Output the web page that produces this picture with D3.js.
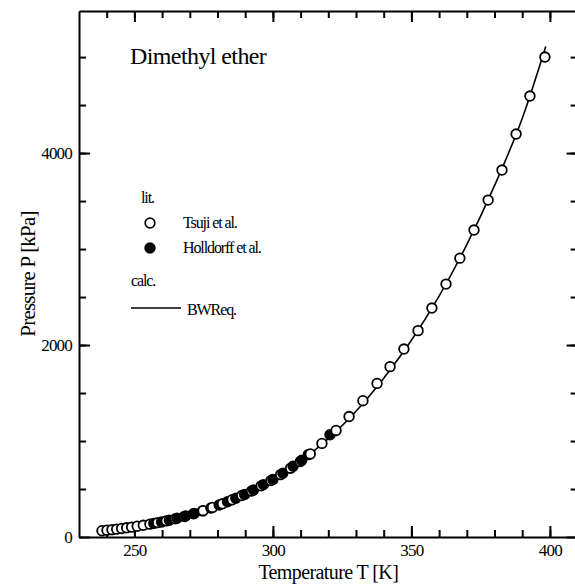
<!DOCTYPE html>
<html>
<head>
<meta charset="utf-8">
<script src="https://cdn.jsdelivr.net/npm/d3@7"></script>
<style>
  body { margin: 0; background: #fff; }
</style>
</head>
<body>
<svg id="chart" width="575" height="585" font-family="'Liberation Serif', 'Times New Roman', serif"></svg>
<script>
// Tsuji et al. (open circles)
const tsujiT = [238.3, 240.1, 241.9, 243.6, 245.4, 247.2, 249.0, 251.0, 253.2, 255.6, 258.4, 261.5,
  264.8, 268.0, 271.3, 274.8, 278.2, 281.8, 285.3, 288.8, 292.3, 295.8, 299.3, 302.8, 306.4, 309.9,
  313.5, 317.7, 322.8, 327.5, 332.5, 337.6, 342.3, 347.3, 352.4, 357.4, 362.5, 367.5, 372.6, 377.7,
  382.7, 387.8, 392.8, 398.2]
const tsujiP = [65, 71, 76, 82, 89, 96, 103, 112, 122, 134, 150, 168,
  190, 214, 242, 274, 308, 346, 388, 432, 480, 533, 588, 650, 717, 787,
  866, 975, 1110, 1255, 1420, 1600, 1775, 1958, 2150, 2385, 2635, 2905, 3198, 3510,
  3823, 4198, 4594, 5000]

// Holldorff et al. (filled circles)
const holldorffT = [257.0, 259.8, 262.6, 265.4, 268.5, 271.6, 274.6, 277.6, 280.6, 283.6, 286.6,
  289.8, 293.0, 296.6, 300.0, 303.6, 307.3, 310.4, 312.8, 320.6]
const holldorffP = [142, 157, 175, 195, 219, 245, 272, 302, 334, 367, 403,
  444, 490, 546, 600, 664, 737, 800, 858, 1065]

// BWR eq. (calculated line)
const calcT = [238, 245, 250, 260, 270, 280, 290, 300, 310, 320, 330, 340, 350, 360, 370, 380, 390, 398.5]
const calcP = [64, 88, 109, 161, 232, 326, 447, 600, 790, 1025, 1310, 1655, 2050, 2510, 3045, 3660, 4360, 5110]

const xTicks = [250, 300, 350, 400]
const yTicks = [0, 2000, 4000]

const svg = d3.select('#chart')
const plot = { left: 79, right: 577.6, top: 11, bottom: 537 }
const serif = "'Liberation Serif', 'Times New Roman', serif"

const x = d3.scaleLinear().domain([230, 410]).range([plot.left, plot.right])
const y = d3.scaleLinear().domain([0, 5480]).range([plot.bottom, plot.top])

function styleAxis (g) {
  g.selectAll('path, line').attr('stroke', '#000').attr('stroke-width', 2)
  g.selectAll('text')
    .attr('font-family', serif)
    .attr('font-size', 17)
    .attr('letter-spacing', '-0.8px')
    .attr('fill', '#000')
}

const minorX = d3.range(240, 410, 10)
const minorY = d3.range(500, 5480, 500)

// bottom
svg.append('g')
  .attr('transform', `translate(0,${plot.bottom})`)
  .call(d3.axisBottom(x).tickValues(minorX).tickSize(-7).tickSizeOuter(0).tickFormat(''))
  .call(styleAxis)
svg.append('g')
  .attr('transform', `translate(0,${plot.bottom})`)
  .call(d3.axisBottom(x).tickValues(xTicks).tickSize(-11).tickSizeOuter(0).tickPadding(7).tickFormat(d3.format('d')))
  .call(styleAxis)
  .call(g => g.select('.domain').remove())
  .call(g => g.selectAll('text').attr('dy', '0.71em'))

// top
svg.append('g')
  .attr('transform', `translate(0,${plot.top})`)
  .call(d3.axisTop(x).tickValues(minorX).tickSize(-7).tickSizeOuter(0).tickFormat(''))
  .call(styleAxis)
svg.append('g')
  .attr('transform', `translate(0,${plot.top})`)
  .call(d3.axisTop(x).tickValues(xTicks).tickSize(-11).tickSizeOuter(0).tickFormat(''))
  .call(styleAxis)
  .call(g => g.select('.domain').remove())

// left
svg.append('g')
  .attr('transform', `translate(${plot.left},0)`)
  .call(d3.axisLeft(y).tickValues(minorY).tickSize(-7).tickSizeOuter(0).tickFormat(''))
  .call(styleAxis)
svg.append('g')
  .attr('transform', `translate(${plot.left},0)`)
  .call(d3.axisLeft(y).tickValues(yTicks).tickSize(-11).tickSizeOuter(0).tickFormat(d3.format('d')))
  .call(styleAxis)
  .call(g => g.select('.domain').remove())
  .call(g => g.selectAll('text').attr('x', -7))

// right
svg.append('g')
  .attr('transform', `translate(${plot.right},0)`)
  .call(d3.axisRight(y).tickValues(minorY).tickSize(-7).tickSizeOuter(0).tickFormat(''))
  .call(styleAxis)
svg.append('g')
  .attr('transform', `translate(${plot.right},0)`)
  .call(d3.axisRight(y).tickValues(yTicks).tickSize(-11).tickSizeOuter(0).tickFormat(''))
  .call(styleAxis)
  .call(g => g.select('.domain').remove())

// calc line
const line = d3.line()
  .x(d => x(d[0]))
  .y(d => y(d[1]))
  .curve(d3.curveMonotoneX)

svg.append('path')
  .datum(calcT.map((t, i) => [t, calcP[i]]))
  .attr('fill', 'none')
  .attr('stroke', '#000')
  .attr('stroke-width', 1.6)
  .attr('d', line)

// points, drawn in order of temperature so later ones overlap earlier ones
const points = tsujiT.map((t, i) => ({ t, p: tsujiP[i], filled: false }))
  .concat(holldorffT.map((t, i) => ({ t, p: holldorffP[i], filled: true })))
  .sort((a, b) => a.t - b.t)

svg.append('g')
  .selectAll('circle')
  .data(points)
  .join('circle')
    .attr('cx', d => x(d.t))
    .attr('cy', d => y(d.p))
    .attr('r', 4.8)
    .attr('fill', d => d.filled ? '#000' : '#fff')
    .attr('stroke', '#000')
    .attr('stroke-width', 1.8)

// title
svg.append('text')
  .attr('x', 130)
  .attr('y', 64)
  .attr('font-family', serif)
  .attr('font-size', 24)
  .attr('letter-spacing', '-0.6px')
  .text('Dimethyl ether')

// legend
function legendText (tx, ty, label) {
  svg.append('text')
    .attr('x', tx).attr('y', ty)
    .attr('font-family', serif)
    .attr('font-size', 16)
    .attr('letter-spacing', '-1.1px')
    .text(label)
}
legendText(141, 203, 'lit.')
svg.append('circle').attr('cx', 150).attr('cy', 223).attr('r', 4.8)
  .attr('fill', '#fff').attr('stroke', '#000').attr('stroke-width', 1.8)
legendText(183, 228, 'Tsuji et al.')
svg.append('circle').attr('cx', 150).attr('cy', 248).attr('r', 4.8)
  .attr('fill', '#000').attr('stroke', '#000').attr('stroke-width', 1.8)
legendText(183, 253, 'Holldorff et al.')
legendText(131, 286, 'calc.')
svg.append('line').attr('x1', 131).attr('x2', 181).attr('y1', 308).attr('y2', 308)
  .attr('stroke', '#000').attr('stroke-width', 1.6)
legendText(187, 315, 'BWReq.')

// axis titles
svg.append('text')
  .attr('x', (plot.left + plot.right) / 2)
  .attr('y', 579)
  .attr('text-anchor', 'middle')
  .attr('font-family', serif)
  .attr('font-size', 20)
  .attr('letter-spacing', '-0.6px')
  .text('Temperature T [K]')

svg.append('text')
  .attr('transform', `translate(35,${(plot.top + plot.bottom) / 2}) rotate(-90)`)
  .attr('text-anchor', 'middle')
  .attr('font-family', serif)
  .attr('font-size', 21)
  .attr('letter-spacing', '-0.8px')
  .text('Pressure P [kPa]')
</script>
</body>
</html>
